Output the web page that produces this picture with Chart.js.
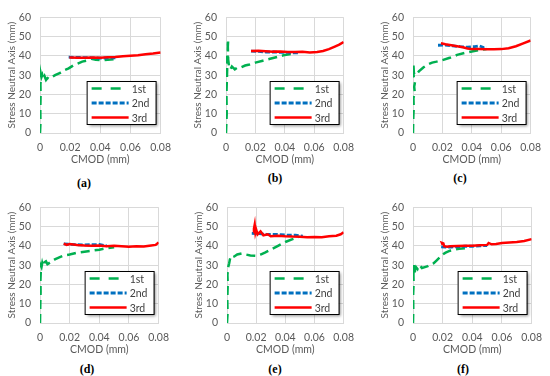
<!DOCTYPE html>
<html>
<head>
<meta charset="utf-8">
<script src="https://cdn.jsdelivr.net/npm/chart.js"></script>
<style>
  body { margin: 0; background: #fff; width: 550px; height: 376px; position: relative; overflow: hidden; }
  canvas { position: absolute; }
  .tag { position: absolute; font: bold 12px "Liberation Serif", serif; color: #000; transform: translate(-50%, -50%); }
</style>
</head>
<body>
<script>
// series are [CMOD, stress neutral axis] pairs
const xTicks = [0, 0.02, 0.04, 0.06, 0.08]
const yTicks = [0, 10, 20, 30, 40, 50, 60]
const seriesNames = ['1st', '2nd', '3rd']

const a1st = [[0,0],[0.0003,5],[0.0002,12],[0.0004,20],[0.0003,25],[0.0005,28],[0.0006,30.5],[0.001,29],[0.0015,30],[0.002,28],[0.003,29.5],[0.004,27.5],[0.005,28.5],[0.006,28],[0.008,29],[0.01,30],[0.013,31],[0.016,32.5],[0.019,33.5],[0.022,35],[0.025,36],[0.028,37],[0.031,37.5],[0.034,38.5],[0.037,38],[0.04,37.8],[0.045,38],[0.05,38.3]]
const a2nd = [[0.019,39.3],[0.025,39.2],[0.03,39.1],[0.035,39],[0.04,38.8],[0.045,39],[0.05,39]]
const a3rd = [[0.0195,39.2],[0.025,39],[0.03,39],[0.035,39.2],[0.04,39],[0.045,39.3],[0.05,39.4],[0.055,39.8],[0.06,40.1],[0.065,40.3],[0.07,40.8],[0.075,41.2],[0.08,41.8]]

const b1st = [[0,0],[0.0005,10],[0.0003,20],[0.0006,28],[0.0008,33],[0.0005,38],[0.0008,40],[0.001,36],[0.0012,44],[0.0015,48.5],[0.0012,46],[0.0015,38],[0.002,35],[0.003,33],[0.004,34.5],[0.006,33],[0.008,34],[0.01,34],[0.013,35],[0.016,35.5],[0.02,36.5],[0.025,37.5],[0.03,38.5],[0.035,39.5],[0.04,40.5],[0.045,41]]
const b2nd = [[0.017,42.5],[0.022,42.3],[0.027,42],[0.032,42],[0.037,41.8],[0.042,41.8],[0.047,41.5],[0.05,41.5]]
const b3rd = [[0.017,42.5],[0.022,42.6],[0.027,42.4],[0.032,42.2],[0.037,42.3],[0.042,42],[0.047,42],[0.052,42.1],[0.057,41.8],[0.062,42],[0.066,42.5],[0.07,43.5],[0.074,44.8],[0.077,45.8],[0.08,47.2]]

const c1st = [[0,0],[0.0002,8],[0.0005,13],[0.0003,18],[0.0012,21],[0.0008,24],[0.0015,27],[0.0005,29],[0.0002,33],[0.0003,35.5],[0.0006,31],[0.002,30],[0.004,32],[0.007,34],[0.01,35.5],[0.013,36.5],[0.016,37],[0.02,37.8],[0.025,39],[0.03,40.5],[0.035,41.5],[0.04,42.3],[0.045,43],[0.05,43.5]]
const c2nd = [[0.017,45.5],[0.022,45.6],[0.027,45.2],[0.032,44.8],[0.037,44.5],[0.042,44.8],[0.045,45.2],[0.048,44.3],[0.05,44.5]]
const c3rd = [[0.019,46.5],[0.022,46],[0.026,45.5],[0.03,45],[0.034,44.5],[0.037,43.8],[0.04,43.5],[0.045,43.5],[0.05,43.4],[0.055,43.4],[0.06,43.5],[0.065,44],[0.07,45],[0.075,46.5],[0.08,48]]

const d1st = [[0,0],[0.0002,10],[0.0004,16],[0.0003,22],[0.0006,28],[0.0004,30],[0.001,29],[0.0015,31],[0.002,29.5],[0.003,31.5],[0.004,32],[0.005,30.5],[0.007,31.5],[0.01,33],[0.013,34],[0.016,35],[0.02,35.5],[0.025,36.5],[0.03,37],[0.035,37.5],[0.04,38],[0.045,38.8],[0.05,39.3]]
const d2nd = [[0.016,41],[0.02,40.8],[0.025,40.6],[0.03,40.5],[0.035,40.6],[0.04,40.7],[0.045,40]]
const d3rd = [[0.016,41.2],[0.018,40.5],[0.02,41],[0.025,40.5],[0.03,40.2],[0.035,40],[0.04,40.2],[0.045,39.8],[0.05,40],[0.055,39.8],[0.06,39.6],[0.065,39.8],[0.07,39.7],[0.075,40.2],[0.078,40.5],[0.08,41.8]]

const e1st = [[0,0],[0.0004,5],[0.0002,12],[0.0005,20],[0.0003,25],[0.0008,29],[0.0015,31],[0.002,33],[0.003,35],[0.005,34.5],[0.007,35.5],[0.01,36],[0.013,35.5],[0.016,35],[0.02,34.8],[0.023,35.5],[0.026,36.5],[0.03,38],[0.035,40],[0.04,42],[0.045,43.5],[0.05,44.8]]
const e2nd = [[0.017,46.5],[0.022,46.3],[0.027,46],[0.032,46],[0.037,45.8],[0.042,45.5],[0.047,45.5],[0.052,45]]
const e3rd = [[0.018,47],[0.0185,49],[0.019,51],[0.0195,47],[0.02,48.5],[0.021,46],[0.023,47.5],[0.025,45.5],[0.028,46],[0.03,45],[0.035,45.3],[0.04,45],[0.045,44.8],[0.05,44.7],[0.055,44.5],[0.06,44.6],[0.065,44.5],[0.07,45],[0.075,45.3],[0.078,46],[0.08,47]]

const f1st = [[0,0],[0.0002,7],[0.0001,15],[0.0004,20],[0.0003,25],[0.0005,30],[0.0008,27],[0.001,25],[0.0015,28],[0.002,29],[0.003,28],[0.004,30],[0.005,29.5],[0.006,28.5],[0.008,29],[0.01,29.5],[0.012,30.5],[0.014,31],[0.016,32.5],[0.018,34],[0.02,35.5],[0.022,36.5],[0.025,37.5],[0.028,38],[0.031,38.5],[0.035,38.8]]
const f2nd = [[0.019,39.5],[0.022,39.3],[0.026,39.4],[0.03,39.6],[0.035,39.8],[0.04,39.8],[0.045,40],[0.05,40.2]]
const f3rd = [[0.02,40.5],[0.0195,41.5],[0.0205,41.2],[0.021,39.8],[0.023,39.5],[0.025,39.8],[0.03,39.9],[0.035,40],[0.04,40.1],[0.045,40.3],[0.05,40.5],[0.051,41.5],[0.053,40.8],[0.056,41],[0.06,41.5],[0.065,41.8],[0.07,42],[0.075,42.5],[0.08,43.5]]

// panel placement: plot area left/top/width/height, and where the (x) tag sits
const panels = [
  {tag: '(a)', series: [a1st, a2nd, a3rd], x: 40, y: 10, w: 125, h: 123, tx: 84, ty: 183},
  {tag: '(b)', series: [b1st, b2nd, b3rd], x: 226, y: 10, w: 122, h: 123, tx: 275, ty: 178},
  {tag: '(c)', series: [c1st, c2nd, c3rd], x: 413, y: 10, w: 122, h: 123, tx: 460, ty: 178},
  {tag: '(d)', series: [d1st, d2nd, d3rd], x: 40, y: 200, w: 123, h: 123, tx: 87, ty: 369},
  {tag: '(e)', series: [e1st, e2nd, e3rd], x: 227, y: 200, w: 121, h: 123, tx: 275, ty: 369},
  {tag: '(f)', series: [f1st, f2nd, f3rd], x: 413, y: 200, w: 123, h: 123, tx: 463, ty: 369},
]

const styles = [
  {color: '#00B050', dash: [9, 5], width: 2.5, order: 3},
  {color: '#0070C0', dash: [5, 2], width: 2.8, order: 2},
  {color: '#FF0000', dash: [], width: 2.5, order: 1},
]

Chart.defaults.font.family = 'Lato, "Liberation Sans", sans-serif'
Chart.defaults.color = '#595959'

// boxed legend with a drop shadow, sitting inside the plot, bottom right
const boxLegend = {
  id: 'boxLegend',
  afterDatasetsDraw(chart) {
    const {ctx, chartArea} = chart
    const bw = 69, bh = 43
    const left = chartArea.right - 5 - bw
    const top = chartArea.bottom - 9 - bh
    ctx.save()
    ctx.shadowColor = 'rgba(0,0,0,0.45)'
    ctx.shadowOffsetX = 2
    ctx.shadowOffsetY = 2
    ctx.shadowBlur = 3
    ctx.fillStyle = '#fff'
    ctx.fillRect(left, top, bw, bh)
    ctx.restore()
    ctx.save()
    ctx.strokeStyle = '#000'
    ctx.lineWidth = 1
    ctx.strokeRect(left + 0.5, top + 0.5, bw, bh)
    chart.data.datasets.forEach((ds, i) => {
      let rowY = top + 7.5 + i * 14.5
      ctx.beginPath()
      ctx.setLineDash(i === 0 ? [10, 9] : ds.borderDash)
      ctx.strokeStyle = ds.borderColor
      ctx.lineWidth = ds.borderWidth
      ctx.moveTo(left + 5, rowY)
      ctx.lineTo(left + 42, rowY)
      ctx.stroke()
      ctx.setLineDash([])
      ctx.fillStyle = '#404040'
      ctx.font = '10.5px Lato, sans-serif'
      ctx.textBaseline = 'middle'
      ctx.fillText(ds.label, left + 45, rowY + 1)
    })
    ctx.restore()
  },
}

panels.forEach((p) => {
  let canvas = document.createElement('canvas')
  canvas.width = p.w + 54
  canvas.height = p.h + 42
  canvas.style.left = (p.x - 40) + 'px'
  canvas.style.top = (p.y - 8) + 'px'
  document.body.appendChild(canvas)

  let tag = document.createElement('div')
  tag.className = 'tag'
  tag.textContent = p.tag
  tag.style.left = p.tx + 'px'
  tag.style.top = p.ty + 'px'
  document.body.appendChild(tag)

  let datasets = p.series.map((pts, i) => ({
    label: seriesNames[i],
    data: pts.map(([x, y]) => ({x, y})),
    borderColor: styles[i].color,
    borderDash: styles[i].dash,
    borderWidth: styles[i].width,
    order: styles[i].order,
    pointRadius: 0,
    tension: 0,
    fill: false,
  }))

  new Chart(canvas, {
    type: 'line',
    data: {datasets},
    plugins: [boxLegend],
    options: {
      responsive: false,
      animation: false,
      layout: {padding: {top: 8, right: 14, left: 0, bottom: 0}},
      plugins: {legend: {display: false}, tooltip: {enabled: false}},
      scales: {
        x: {
          type: 'linear',
          min: 0,
          max: 0.08,
          afterFit(scale) { scale.height = 34 },
          afterBuildTicks(scale) { scale.ticks = xTicks.map((v) => ({value: v})) },
          ticks: {padding: 8, font: {size: 10.5}, callback: (v) => String(+v.toFixed(2))},
          grid: {color: '#d9d9d9', drawTicks: false},
          border: {color: '#d9d9d9'},
          title: {display: true, text: 'CMOD (mm)', font: {size: 10.5}, padding: {top: 0, bottom: 1}},
        },
        y: {
          min: 0,
          max: 60,
          afterFit(scale) { scale.width = 40 },
          afterBuildTicks(scale) { scale.ticks = yTicks.map((v) => ({value: v})) },
          ticks: {padding: 9, font: {size: 10.5}},
          grid: {color: '#d9d9d9', drawTicks: false},
          border: {color: '#d9d9d9'},
          title: {display: true, text: 'Stress Neutral Axis (mm)', font: {size: 10}, padding: {top: 6, bottom: 0}},
        },
      },
    },
  })
})
</script>
</body>
</html>
